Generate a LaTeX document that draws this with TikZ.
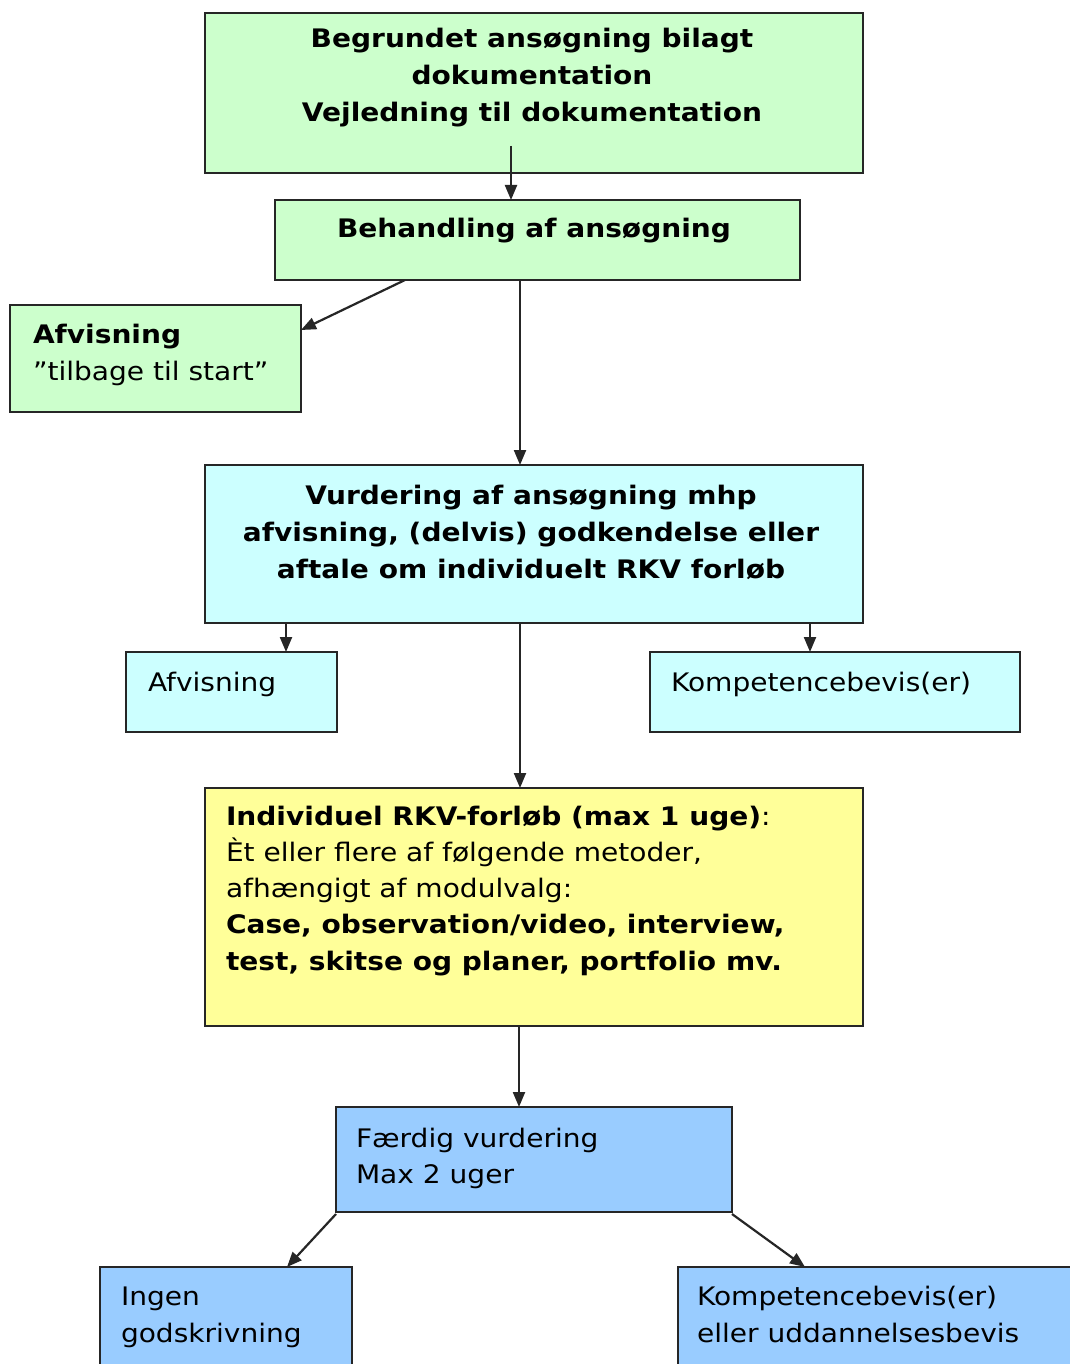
\documentclass[tikz,border=0pt]{standalone}
\usepackage{fontspec}
\setmainfont[FakeStretch=1.1]{DejaVu Sans}
\usetikzlibrary{arrows.meta}
\definecolor{cgreen}{HTML}{CCFFCC}
\definecolor{ccyan}{HTML}{CCFFFF}
\definecolor{cyell}{HTML}{FFFF99}
\definecolor{cblue}{HTML}{99CCFF}
\newcommand\tstrut{\rule{0pt}{20pt}}
\begin{document}
\begin{tikzpicture}[x=1pt,y=-1pt,
  boxn/.style={draw=black!85, line width=2.2pt, anchor=north west, inner sep=0pt, outer sep=0pt},
  txt/.style={inner sep=0pt, outer sep=0pt, font=\fontsize{25.5}{37}\selectfont},
  txtb/.style={inner sep=0pt, outer sep=0pt, font=\fontsize{25.5}{37}\selectfont\bfseries},
  arr/.style={draw=black!85, line width=2.2pt, -{Triangle[length=15pt,width=12pt]}}]
\useasboundingbox (0,0) rectangle (1069,1364);
\fill[white] (0,0) rectangle (1069,1364);
% boxes
\node[boxn, fill=cgreen, minimum width=658pt, minimum height=160pt] (b1) at (205,13) {};
\node[boxn, fill=cgreen, minimum width=525pt, minimum height=80pt] (b2) at (275,200) {};
\node[boxn, fill=cgreen, minimum width=291pt, minimum height=107pt] (afv1) at (10,305) {};
\node[boxn, fill=ccyan, minimum width=658pt, minimum height=158pt] (b3) at (205,465) {};
\node[boxn, fill=ccyan, minimum width=211pt, minimum height=80pt] (afv2) at (126,652) {};
\node[boxn, fill=ccyan, minimum width=370pt, minimum height=80pt] (komp1) at (650,652) {};
\node[boxn, fill=cyell, minimum width=658pt, minimum height=238pt] (yb) at (205,788) {};
\node[boxn, fill=cblue, minimum width=396pt, minimum height=105pt] (fv) at (336,1107) {};
\node[boxn, fill=cblue, minimum width=252pt, minimum height=120pt] (ing) at (100,1267) {};
\node[boxn, fill=cblue, minimum width=400pt, minimum height=120pt] (komp2) at (678,1267) {};
% texts
\node[txtb, anchor=north, align=center] (t1) at (532,28)
  {\tstrut Begrundet ansøgning bilagt\\dokumentation\\Vejledning til dokumentation};
\node[txtb, anchor=north, align=center] (t2) at (534,217) {\tstrut Behandling af ansøgning};
\node[txt, anchor=north west, align=left] (t3) at (33,323)
  {\tstrut\bfseries Afvisning\\”tilbage til start”};
\node[txtb, anchor=north, align=center] (t4) at (531,484)
  {\tstrut Vurdering af ansøgning mhp\\afvisning, (delvis) godkendelse eller\\aftale om individuelt RKV forløb};
\node[txt, anchor=north west] (t5) at (148,671) {\tstrut Afvisning};
\node[txt, anchor=north west] (t6) at (671,671) {\tstrut Kompetencebevis(er)};
\node[txt, anchor=north west, align=left, font=\fontsize{25.5}{36.3}\selectfont] (t7) at (226,805)
  {\tstrut\bfseries Individuel RKV-forløb (max 1 uge)\mdseries:\\
   Èt eller flere af følgende metoder,\\
   afhængigt af modulvalg:\\
   \bfseries Case, observation/video, interview,\\
   \bfseries test, skitse og planer, portfolio mv.};
\node[txt, anchor=north west, align=left, font=\fontsize{25.5}{36}\selectfont] (t8) at (356,1127)
  {\tstrut Færdig vurdering\\Max 2 uger};
\node[txt, anchor=north west, align=left] (t9) at (121,1285) {\tstrut Ingen\\godskrivning};
\node[txt, anchor=north west, align=left] (t10) at (697,1285)
  {\tstrut Kompetencebevis(er)\\eller uddannelsesbevis};
% arrows
\draw[arr] ([xshift=306pt,yshift=27pt]b1.south west) -- ([xshift=236pt]b2.north west);
\draw[arr] ([xshift=130pt]b2.south west) -- ([yshift=-25pt]afv1.north east);
\draw[arr] ([xshift=245pt]b2.south west) -- ([xshift=315pt]b3.north west);
\draw[arr] ([xshift=81pt]b3.south west) -- ([xshift=160pt]afv2.north west);
\draw[arr] ([xshift=605pt]b3.south west) -- ([xshift=160pt]komp1.north west);
\draw[arr] ([xshift=315pt]b3.south west) -- ([xshift=315pt]yb.north west);
\draw[arr] ([xshift=314pt]yb.south west) -- ([xshift=183pt]fv.north west);
\draw[arr] ([yshift=-2pt]fv.south west) -- ([xshift=187pt]ing.north west);
\draw[arr] ([yshift=-2pt]fv.south east) -- ([xshift=127pt]komp2.north west);
\end{tikzpicture}
\end{document}
